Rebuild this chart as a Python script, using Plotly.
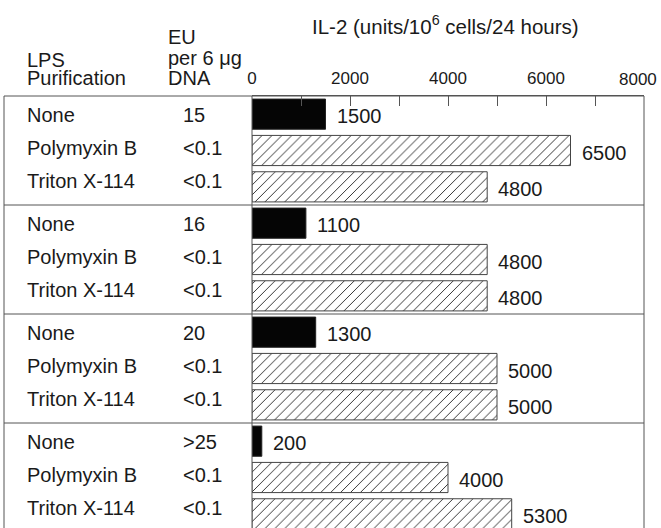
import plotly.graph_objects as go

# Table columns and IL-2 values (four LPS preparations, three purifications each)
purification = ["None", "Polymyxin B", "Triton X-114"] * 4
eu_per_dna = ["15", "<0.1", "<0.1",
              "16", "<0.1", "<0.1",
              "20", "<0.1", "<0.1",
              ">25", "<0.1", "<0.1"]
il2_units = [1500, 6500, 4800,
             1100, 4800, 4800,
             1300, 5000, 5000,
             200, 4000, 5300]
x_tick_values = [0, 1000, 2000, 3000, 4000, 5000, 6000, 7000, 8000]
x_tick_labels = ["0", "", "2000", "", "4000", "", "6000", "", "8000"]

# Figure geometry (pixels)
W, H = 661, 528
PL, PR, PT, PB = 252, 644, 96, 528      # plot area edges
FRAME_LEFT = 4
ROWS_PER_GROUP = 3
ROW_PX = 109 / 3                         # height of one row
Y_SPAN = (PB - PT) / ROW_PX              # rows visible in the plot area

FONT = "Liberation Sans, Arial, Helvetica, sans-serif"
INK = "#1a1a1a"
LINE = "#555555"


def px_x(px):
    return (px - PL) / (PR - PL)


def px_y(py):
    return (PB - py) / (PB - PT)


def row_y(u):
    return 1 - u / Y_SPAN


n = len(il2_units)
group = [i // ROWS_PER_GROUP for i in range(n)]
pos = [i % ROWS_PER_GROUP for i in range(n)]
bar_y = [ROWS_PER_GROUP * g + r + 0.5 for g, r in zip(group, pos)]
solid = [i for i in range(n) if purification[i] == "None"]
hatched = [i for i in range(n) if purification[i] != "None"]

fig = go.Figure()

fig.add_trace(go.Bar(
    orientation="h",
    x=[il2_units[i] for i in solid],
    y=[bar_y[i] for i in solid],
    width=0.83,
    marker=dict(color="#050505", line=dict(color="#222222", width=1)),
    hoverinfo="skip",
))

fig.add_trace(go.Bar(
    orientation="h",
    x=[il2_units[i] for i in hatched],
    y=[bar_y[i] for i in hatched],
    width=0.83,
    marker=dict(
        color="white",
        line=dict(color="#444444", width=1),
        pattern=dict(shape="/", fgcolor="#333333", bgcolor="white",
                     size=7, solidity=0.14, fillmode="replace"),
    ),
    hoverinfo="skip",
))

annotations = []

# value labels to the right of each bar
for i in range(n):
    annotations.append(dict(
        x=il2_units[i], y=bar_y[i], xref="x", yref="y",
        text=f"{il2_units[i]}", showarrow=False,
        xanchor="left", yanchor="middle", xshift=9, yshift=-2,
        font=dict(family=FONT, size=20, color=INK),
    ))

# table text on the left
for i in range(n):
    ly = ROWS_PER_GROUP * group[i] + 0.53 + 0.91 * pos[i]
    annotations.append(dict(
        x=px_x(25), y=row_y(ly), xref="paper", yref="paper",
        text=purification[i], showarrow=False,
        xanchor="left", yanchor="middle",
        font=dict(family=FONT, size=20, color=INK),
    ))
    annotations.append(dict(
        x=px_x(181), y=row_y(ly), xref="paper", yref="paper",
        text=eu_per_dna[i], showarrow=False,
        xanchor="left", yanchor="middle",
        font=dict(family=FONT, size=20, color=INK),
    ))

# column headers
headers = [
    ("LPS", 25, 60), ("Purification", 25, 78),
    ("EU", 166, 37), ("per 6 \u03bcg", 166, 58), ("DNA", 166, 78),
]
for txt, hx, hy in headers:
    annotations.append(dict(
        x=px_x(hx), y=px_y(hy), xref="paper", yref="paper",
        text=txt, showarrow=False, xanchor="left", yanchor="middle",
        font=dict(family=FONT, size=20, color=INK),
    ))

annotations.append(dict(
    x=px_x(445), y=px_y(25), xref="paper", yref="paper",
    text="IL-2 (units/10<sup>6</sup> cells/24 hours)", showarrow=False,
    xanchor="center", yanchor="middle",
    font=dict(family=FONT, size=20.5, color=INK),
))

# the last tick label sits slightly inside the page edge
annotations.append(dict(
    x=x_tick_values[-1], y=px_y(79), xref="x", yref="paper",
    text=x_tick_labels[-1], showarrow=False,
    xanchor="center", yanchor="middle", xshift=-6,
    font=dict(family=FONT, size=17, color=INK),
))
axis_tick_text = x_tick_labels[:-1] + [""]

# frame, separators and the zero line
shapes = [
    dict(type="line", xref="paper", yref="paper",
         x0=px_x(FRAME_LEFT), x1=1, y0=1, y1=1),
    dict(type="line", xref="paper", yref="paper",
         x0=px_x(FRAME_LEFT), x1=px_x(FRAME_LEFT), y0=1, y1=-0.05),
    dict(type="line", xref="paper", yref="paper",
         x0=1, x1=1, y0=1, y1=-0.05),
    dict(type="line", xref="paper", yref="paper",
         x0=0, x1=0, y0=1, y1=-0.05),
]
for g in range(1, 4):
    yy = row_y(ROWS_PER_GROUP * g)
    shapes.append(dict(type="line", xref="paper", yref="paper",
                       x0=px_x(FRAME_LEFT), x1=1, y0=yy, y1=yy))
for s in shapes:
    s["line"] = dict(color=LINE, width=1)

fig.update_layout(
    width=W, height=H,
    margin=dict(l=PL, r=W - PR, t=PT, b=H - PB, pad=0),
    paper_bgcolor="white", plot_bgcolor="white",
    showlegend=False, barmode="overlay",
    annotations=annotations, shapes=shapes,
    xaxis=dict(
        range=[0, 8000], side="top",
        tickmode="array", tickvals=x_tick_values, ticktext=axis_tick_text,
        ticks="inside", ticklen=10, tickwidth=1, tickcolor=LINE,
        showline=True, linecolor=LINE, linewidth=1,
        showgrid=False, zeroline=False,
        tickfont=dict(family=FONT, size=17, color=INK),
        ticklabelstandoff=4,
    ),
    yaxis=dict(
        range=[Y_SPAN, 0], visible=False, showgrid=False, zeroline=False,
    ),
)

fig.write_html("out.html")
